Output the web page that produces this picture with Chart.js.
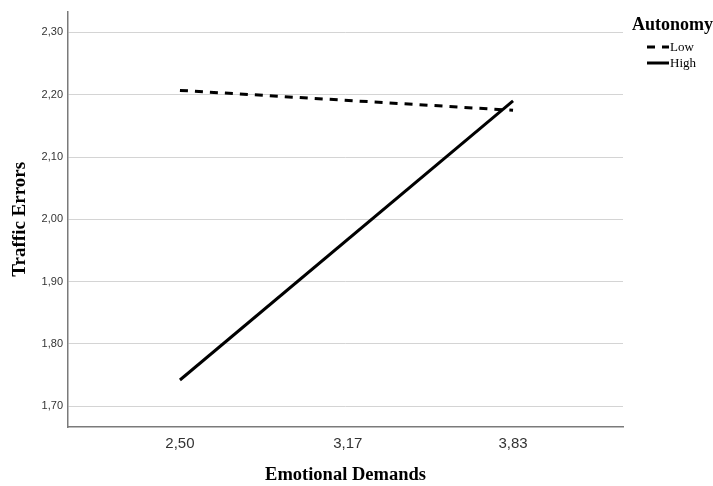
<!DOCTYPE html>
<html>
<head>
<meta charset="utf-8">
<title>Traffic Errors by Emotional Demands and Autonomy</title>
<script src="https://cdn.jsdelivr.net/npm/chart.js@4/dist/chart.umd.min.js"></script>
<style>
  html, body { margin: 0; padding: 0; background: #fff; }
  #chart { display: block; }
</style>
</head>
<body>
<canvas id="chart" width="713" height="486"></canvas>
<script>
// values
const emotionalDemands = [2.50, 3.83];
const lowAutonomy = [2.207, 2.175];
const highAutonomy = [1.742, 2.190];
const xTicks = [2.50, 3.17, 3.83];
const yTicks = [1.70, 1.80, 1.90, 2.00, 2.10, 2.20, 2.30];

const serif = "'Liberation Serif', 'Times New Roman', serif";
const sans = "'Liberation Sans', Arial, sans-serif";

const fmt = v => v.toFixed(2).replace(".", ",");

function toPoints(ys) {
  return emotionalDemands.map((x, i) => ({ x: x, y: ys[i] }));
}

/* legend drawn at the right, like the SPSS one */
const sideLegend = {
  id: "sideLegend",
  afterDraw(chart) {
    const ctx = chart.ctx;
    const left = chart.chartArea.right + 9;
    ctx.save();
    ctx.fillStyle = "#000";
    ctx.textBaseline = "middle";
    ctx.textAlign = "left";
    ctx.font = "bold 18px " + serif;
    ctx.fillText("Autonomy", left, 25);

    chart.data.datasets.forEach((ds, i) => {
      const y = 47 + i * 16;
      ctx.beginPath();
      ctx.setLineDash(ds.borderDash || []);
      ctx.lineWidth = ds.borderWidth;
      ctx.strokeStyle = ds.borderColor;
      ctx.moveTo(left + 15, y);
      ctx.lineTo(left + 37, y);
      ctx.stroke();
      ctx.setLineDash([]);
      ctx.font = "13px " + serif;
      ctx.fillText(ds.label, left + 38, y + 1);
    });
    ctx.restore();
  }
};

new Chart(document.getElementById("chart"), {
  type: "line",
  data: {
    datasets: [
      {
        label: "Low",
        data: toPoints(lowAutonomy),
        borderColor: "#000",
        borderWidth: 3,
        borderDash: [8, 7],
        pointRadius: 0,
        fill: false
      },
      {
        label: "High",
        data: toPoints(highAutonomy),
        borderColor: "#000",
        borderWidth: 3,
        pointRadius: 0,
        fill: false
      }
    ]
  },
  options: {
    responsive: false,
    animation: false,
    devicePixelRatio: 1,
    layout: { padding: { top: 8, right: 90, left: 0, bottom: 0 } },
    plugins: {
      legend: { display: false },
      tooltip: { enabled: false }
    },
    scales: {
      x: {
        type: "linear",
        min: 2.053,
        max: 4.269,
        afterBuildTicks: s => { s.ticks = xTicks.map(v => ({ value: v })); },
        afterFit: s => { s.height = 59; },
        grid: { display: false, drawTicks: false },
        border: { display: true, color: "#7a7a7a", width: 1.5 },
        ticks: {
          padding: 8,
          color: "#333",
          font: { family: sans, size: 15 },
          callback: v => fmt(v)
        },
        title: {
          display: true,
          text: "Emotional Demands",
          color: "#000",
          font: { family: serif, size: 18.5, weight: "bold" },
          padding: { top: 0, bottom: 0 }
        }
      },
      y: {
        min: 1.6665,
        max: 2.3335,
        afterBuildTicks: s => { s.ticks = yTicks.map(v => ({ value: v })); },
        afterFit: s => { s.width = 68; },
        grid: { color: "#d4d4d4", lineWidth: 1, drawTicks: false },
        border: { display: true, color: "#7a7a7a", width: 1.5 },
        ticks: {
          padding: 5,
          color: "#333",
          font: { family: sans, size: 11 },
          callback: v => fmt(v)
        },
        title: {
          display: true,
          text: "Traffic Errors",
          color: "#000",
          font: { family: serif, size: 19, weight: "bold" },
          padding: { top: 9, bottom: 0 }
        }
      }
    }
  },
  plugins: [sideLegend]
});
</script>
</body>
</html>
